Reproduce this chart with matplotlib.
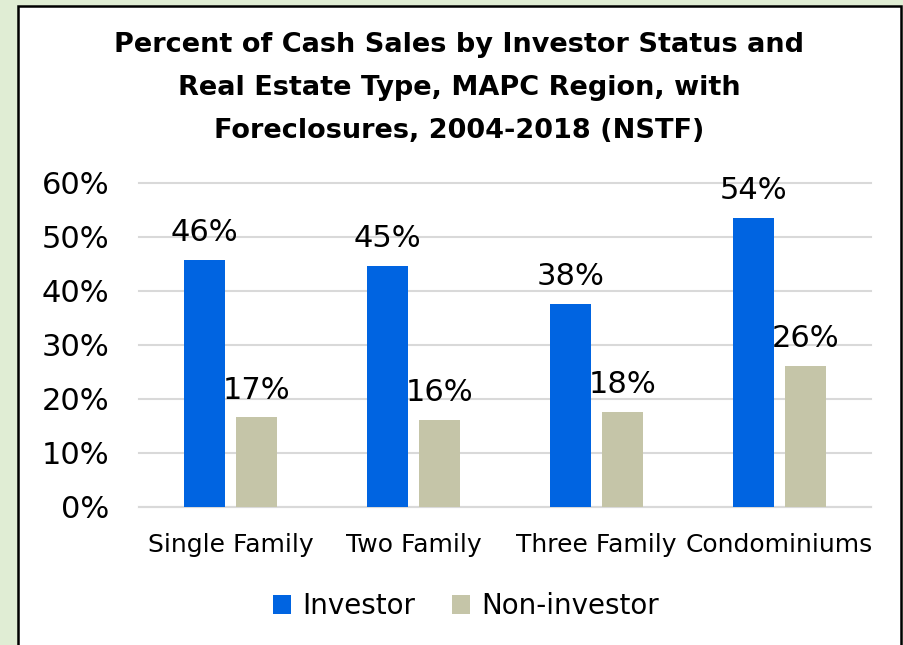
import numpy as np
import matplotlib
matplotlib.use("Agg")
import matplotlib.pyplot as plt
from matplotlib.patches import Rectangle

# data
categories = ["Single Family", "Two Family", "Three Family", "Condominiums"]
investor = [45.8, 44.7, 37.6, 53.6]
non_investor = [16.6, 16.2, 17.6, 26.2]
series_names = ["Investor", "Non-investor"]
yticks = [0, 10, 20, 30, 40, 50, 60]

blue = "#0064e1"
khaki = "#c5c5a8"

plt.rcParams['font.family'] = ['DejaVu Sans']

W, H = 904, 645
fig = plt.figure(figsize=(W / 100, H / 100), dpi=100)
fig.patch.set_facecolor("#e0edd4")

# white panel with black frame (bottom edge runs off the picture)
panel = Rectangle((18 / W, -0.05), (901 - 18) / W, 1.05 - 6 / H,
                  transform=fig.transFigure, facecolor="white",
                  edgecolor="black", linewidth=1.8, zorder=-10)
fig.patches.append(panel)

ax = fig.add_axes([139 / W, 1 - 507 / H, (871 - 139) / W, (507 - 183) / H])
ax.set_facecolor("none")

x = np.arange(len(categories))
w = 0.219
off = 0.142
b1 = ax.bar(x - off, investor, w, color=blue, label=series_names[0], zorder=3)
b2 = ax.bar(x + off, non_investor, w, color=khaki, label=series_names[1], zorder=3)

for bars, vals in ((b1, investor), (b2, non_investor)):
    for r, v in zip(bars, vals):
        ax.annotate(f"{round(v):d}%", (r.get_x() + r.get_width() / 2, v),
                    xytext=(0, 9), textcoords="offset points",
                    ha="center", va="bottom", fontsize=22, zorder=4)

ax.set_xlim(-0.5, 3.5)
ax.set_ylim(0, 60)
ax.set_yticks(yticks)
ax.set_yticklabels([f"{t}%" for t in yticks])
ax.set_xticks(x)
ax.set_xticklabels(categories)
ax.tick_params(axis="y", length=0, pad=21.5, labelsize=22)
ax.tick_params(axis="x", length=0, pad=19, labelsize=18)
ax.yaxis.grid(True, color="#d9d9d9", linewidth=1.5, zorder=0, clip_on=False)
ax.set_axisbelow(True)
for s in ["top", "right", "left"]:
    ax.spines[s].set_visible(False)
ax.spines["bottom"].set_color("#d9d9d9")
ax.spines["bottom"].set_linewidth(1.5)

fig.text(459 / W, 1 - 88 / H,
         "Percent of Cash Sales by Investor Status and\n"
         "Real Estate Type, MAPC Region, with\n"
         "Foreclosures, 2004-2018 (NSTF)",
         ha="center", va="center", fontsize=19.5, fontweight="bold",
         linespacing=1.85)

fig.legend(handles=[b1, b2], loc="center", bbox_to_anchor=(466 / W, 1 - 606 / H),
           ncol=2, frameon=False, fontsize=20, handlelength=0.65,
           handleheight=0.65, handletextpad=0.4, columnspacing=1.3)

fig.savefig("out.png", dpi=100, facecolor=fig.get_facecolor())
